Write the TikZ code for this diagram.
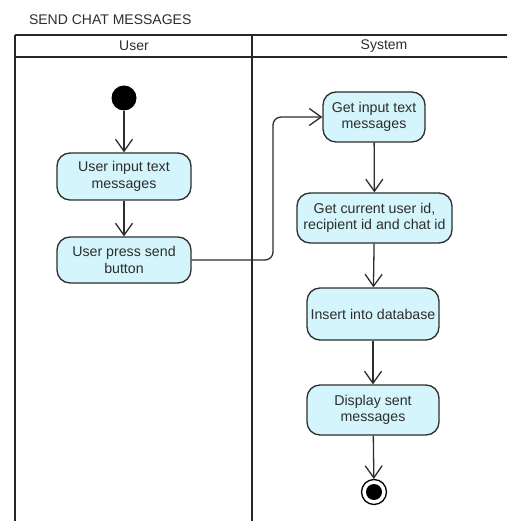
\documentclass[tikz,border=0pt]{standalone}
\usepackage{fontspec}
\setmainfont{Liberation Sans}
\usetikzlibrary{arrows.meta}
\definecolor{actfill}{RGB}{212,245,252}
\definecolor{ink}{RGB}{45,45,45}
\tikzset{
  action/.style={draw=ink, line width=1.3pt, fill=actfill, rounded corners=13pt,
    align=center, font=\fontsize{14.2}{16.5}\selectfont, text=ink, inner sep=0pt},
  flow/.style={draw=ink, line width=1.3pt,
    -{Straight Barb[length=12pt,width=17pt,line width=1.3pt]}},
  lane/.style={draw=black!85, line width=2.4pt},
  lanetitle/.style={font=\fontsize{14}{16}\selectfont, text=ink},
}
\begin{document}
\begin{tikzpicture}[x=1pt,y=-1pt]
\useasboundingbox (0,0) rectangle (507,521);
\fill[white] (0,0) rectangle (507,521);
\begin{scope}
\clip (0,0) rectangle (507,521);
% swimlane frame
\draw[lane] (15,35) -- (520,35);
\draw[lane] (15,57) -- (520,57);
\draw[lane] (15,35) -- (15,530);
\draw[lane] (252,35) -- (252,530);
\end{scope}

\node[anchor=west, lanetitle] (title) at (25.5,20) {SEND CHAT MESSAGES};
\node[lanetitle] (laneuser) at (134,46) {User};
\node[lanetitle] (lanesys) at (384,46) {System};

% user lane
\node[circle, fill=black, minimum size=25pt, inner sep=0pt] (start) at (124,98) {};
\node[action, minimum width=134pt, minimum height=47pt] (n1) at (124,176.5) {User input text\\messages};
\node[action, minimum width=134pt, minimum height=46pt] (n2) at (124,260) {User press send\\button};

% system lane
\node[action, minimum width=102pt, minimum height=50pt] (n3) at (374,117) {Get input text\\messages};
\node[action, minimum width=155pt, minimum height=50pt] (n4) at (374.5,218) {Get current user id,\\recipient id and chat id};
\node[action, minimum width=132pt, minimum height=52pt] (n5) at (373,314) {Insert into database};
\node[action, minimum width=132pt, minimum height=50pt] (n6) at (373,410) {Display sent\\messages};

\node[circle, draw=black, line width=1.3pt, fill=white, minimum size=25pt, inner sep=0pt] (end) at (374,492) {};
\node[circle, fill=black, minimum size=16pt, inner sep=0pt] (endin) at (end.center) {};

% control flow
\draw[flow] (start) -- (n1);
\draw[flow] (n1) -- (n2);
\draw[flow, rounded corners=8pt] (n2.east) -| (273,200) |- (n3.west);
\draw[flow] (n3) -- (n4);
\draw[flow] (n4) -- (n5);
\draw[flow] (n5) -- (n6);
\draw[flow] (n6) -- (end);
\end{tikzpicture}
\end{document}
